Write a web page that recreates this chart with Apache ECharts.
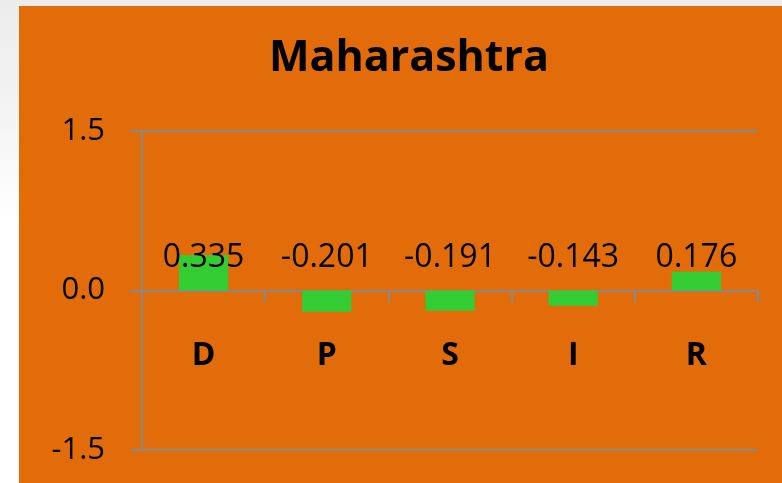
<!DOCTYPE html>
<html>
<head>
<meta charset="utf-8">
<script src="https://cdn.jsdelivr.net/npm/echarts@6/dist/echarts.min.js"></script>
<style>
  html, body { margin: 0; padding: 0; width: 782px; height: 483px; overflow: hidden; }
  body { background: linear-gradient(to bottom, #ececec 0px, #f4f4f4 120px, #ffffff 220px); position: relative; }
  #chart { position: absolute; left: 19px; top: 6px; width: 763px; height: 477px; background: #e36c0a; }
</style>
</head>
<body>
<div id="chart"></div>
<script>
// 数据
var categories = ['D', 'P', 'S', 'I', 'R'];
var values = [0.335, -0.201, -0.191, -0.143, 0.176];
var yTicks = [-1.5, 0, 1.5];

var myChart = echarts.init(document.getElementById('chart'));
var font = '"Open Sans", "DejaVu Sans", sans-serif';
var gridColor = '#888888';

var option = {
  backgroundColor: 'transparent',
  animation: false,
  title: {
    text: 'Maharashtra',
    left: 385,
    textAlign: 'center',
    top: 26,
    textStyle: { fontFamily: font, fontSize: 43, fontWeight: 'bold', color: '#000' }
  },
  grid: { left: 123, right: 24, top: 125, bottom: 33, containLabel: false, outerBoundsMode: 'none' },
  xAxis: {
    type: 'category',
    data: categories,
    axisLine: { onZero: true, lineStyle: { color: gridColor, width: 2 } },
    axisTick: { show: true, length: 12, lineStyle: { color: gridColor, width: 2 } },
    axisLabel: { margin: -110, fontFamily: font, fontSize: 32, fontWeight: 'bold', color: '#000' },
    splitLine: { show: false }
  },
  yAxis: {
    type: 'value',
    min: yTicks[0],
    max: yTicks[yTicks.length - 1],
    interval: 1.5,
    axisLine: { show: true, lineStyle: { color: gridColor, width: 2 } },
    axisTick: { show: true, length: 12, lineStyle: { color: gridColor, width: 2 } },
    axisLabel: {
      margin: 37, fontFamily: font, fontSize: 31, color: '#000',
      formatter: function (v) { return v.toFixed(1); }
    },
    splitLine: { show: true, lineStyle: { color: gridColor, width: 2 } }
  },
  series: [{
    type: 'bar',
    data: values,
    barWidth: '40%',
    itemStyle: { color: '#33cc33' },
    label: {
      show: true,
      position: 'top',
      fontFamily: font,
      fontSize: 32,
      color: '#000',
      formatter: function (p) { return p.value.toFixed(3); }
    },
    // 标签统一放在零线上方一排
    labelLayout: function (params) {
      var r = params.rect;
      var zero = values[params.dataIndex] >= 0 ? r.y + r.height : r.y;
      return { x: r.x + r.width / 2, y: zero - 33, align: 'center', verticalAlign: 'middle' };
    },
    z: 1
  }]
};
myChart.setOption(option);
</script>
</body>
</html>
